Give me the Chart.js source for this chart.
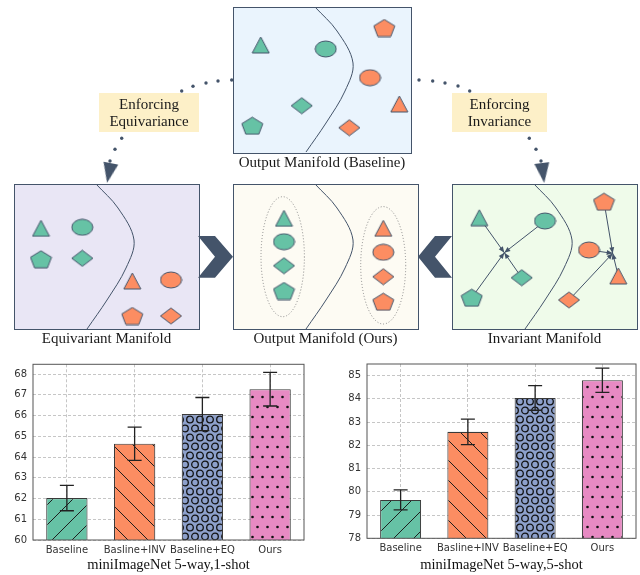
<!DOCTYPE html>
<html>
<head>
<meta charset="utf-8">
<script src="https://cdn.jsdelivr.net/npm/chart.js@4.4.1/dist/chart.umd.min.js"></script>
<style>
  html, body { margin: 0; padding: 0; background: #fff; }
  #page { position: relative; width: 640px; height: 575px; overflow: hidden; }
  .box { position: absolute; }
</style>
</head>
<body>
<div id="page">
  <div class="box" style="left:0;top:0;width:640px;height:352px"><canvas id="diagram"></canvas></div>
  <div class="box" style="left:0;top:352px;width:320px;height:223px"><canvas id="oneShot"></canvas></div>
  <div class="box" style="left:320px;top:352px;width:320px;height:223px"><canvas id="fiveShot"></canvas></div>
</div>
<script>
// --- barres : précision (%) et écart ---
const methods = ['Baseline', 'Basline+INV', 'Baseline+EQ', 'Ours'];
const oneShotAcc = [62.02, 64.64, 66.07, 67.27];
const oneShotErr = [0.61, 0.80, 0.80, 0.81];
const fiveShotAcc = [79.65, 82.58, 84.04, 84.80];
const fiveShotErr = [0.43, 0.55, 0.53, 0.52];
const oneShotTicks = [60, 61, 62, 63, 64, 65, 66, 67, 68];
const fiveShotTicks = [78, 79, 80, 81, 82, 83, 84, 85];

// --- schéma : positions des formes (haut, équivariant, ours, invariant) ---
const greenTriangle = [[260.7, 45], [41, 228.3], [284, 218.3], [479.3, 217.7]];
const greenEllipse = [[325.7, 49], [82.3, 227.3], [284, 241.7], [545, 221]];
const greenDiamond = [[301.7, 105.7], [82.3, 258.3], [284, 265.7], [521.7, 277.7]];
const greenPentagon = [[252.3, 125.7], [41, 259.3], [284, 291], [471.7, 297.7]];
const orangeTriangle = [[399.3, 104], [132.3, 281], [383.3, 228.3], [618.3, 276]];
const orangeEllipse = [[370, 77.7], [171, 280], [383.3, 252.3], [589, 250]];
const orangeDiamond = [[349.3, 127.7], [171, 316], [383.3, 276.7], [569, 300]];
const orangePentagon = [[384.3, 28], [132.3, 316], [383.3, 301.7], [604, 201.7]];
const greenHub = [504.3, 252.7];
const orangeHub = [612.7, 253.3];
// frontière de décision, relative au coin haut-gauche du cadre
const boundaryCurve = [[82, 0], [104, 24], [120, 56], [112, 84], [93, 116], [73, 145]];
// flèches pointillées
const equivDots = [[231.7, 80], [218, 81], [206, 83], [193, 86.3], [181.7, 91], [121.7, 138.3], [115, 149.3], [110, 161]];
const invDots = [[419, 80], [432.7, 81], [445, 83], [458, 86], [469.7, 91], [529.3, 138.3], [536, 149.3], [541, 161]];
const arrowHeads = [[109, 173], [543, 173]];
const arrowTilt = [11, -7];

// mise en page du schéma
const panels = [
  { x: 233, y: 7, w: 178, h: 146, fill: '#eaf4fd', caption: 'Output Manifold (Baseline)', cy: 163.5 },
  { x: 14, y: 184, w: 185, h: 145, fill: '#e9e6f5', caption: 'Equivariant Manifold', cy: 339.5 },
  { x: 233, y: 184, w: 185, h: 145, fill: '#fdfbf3', caption: 'Output Manifold (Ours)', cy: 339.5 },
  { x: 452, y: 184, w: 185, h: 145, fill: '#effbea', caption: 'Invariant Manifold', cy: 339.5 }
];
const rings = [[282.7, 256.7, 21.7, 60], [383.2, 265.3, 22.5, 58.7]];
const chevrons = [
  [[198, 236], [215, 236], [233, 256.7], [215, 277.7], [198, 277.7], [215, 256.7]],
  [[452, 236], [435, 236], [418, 256.7], [435, 277.7], [452, 277.7], [435, 256.7]]
];
const notes = [
  { x: 99, y: 93, w: 100, h: 39, lines: ['Enforcing', 'Equivariance'] },
  { x: 452, y: 93, w: 95, h: 39, lines: ['Enforcing', 'Invariance'] }
];

const ink = '#44546a';
const green = '#66c2a5';
const orange = '#fc8d62';
const serif = "'Liberation Serif', 'Times New Roman', serif";

const pt = (p) => ({ x: p[0], y: p[1] });

// petites icônes pour pointStyle
function icon(kind, fill) {
  const sz = { triangle: [17, 16], ellipse: [21, 16], diamond: [21, 16], pentagon: [21, 17], head: [15, 20] }[kind];
  const w = sz[0], h = sz[1];
  const c = document.createElement('canvas');
  c.width = w + 2;
  c.height = h + 2;
  const g = c.getContext('2d');
  const cx = c.width / 2, cy = c.height / 2;
  g.beginPath();
  if (kind === 'triangle') {
    g.moveTo(cx, 1); g.lineTo(1 + w, 1 + h); g.lineTo(1, 1 + h); g.closePath();
  } else if (kind === 'ellipse') {
    g.ellipse(cx, cy, w / 2, h / 2, 0, 0, Math.PI * 2);
  } else if (kind === 'diamond') {
    g.moveTo(cx, 1); g.lineTo(1 + w, cy); g.lineTo(cx, 1 + h); g.lineTo(1, cy); g.closePath();
  } else if (kind === 'pentagon') {
    for (let k = 0; k < 5; k++) {
      const a = -Math.PI / 2 + k * 2 * Math.PI / 5;
      const px = cx + (w / 2) * Math.cos(a) / 0.951;
      const py = 1 + h * (Math.sin(a) + 1) / 1.809;
      k ? g.lineTo(px, py) : g.moveTo(px, py);
    }
    g.closePath();
  } else {
    // pointe de flèche, vers le bas
    g.moveTo(1, 1); g.lineTo(1 + w, 1); g.lineTo(cx, 1 + h); g.closePath();
  }
  g.fillStyle = fill;
  g.fill();
  if (kind !== 'head') {
    g.strokeStyle = ink;
    g.lineWidth = 1;
    g.stroke();
  }
  return c;
}

function shapeSet(points, kind, fill) {
  return {
    data: points.map(pt),
    pointStyle: icon(kind, fill),
    pointRadius: 10,
    showLine: false,
    order: 1
  };
}

const diagramSets = [
  shapeSet(greenTriangle, 'triangle', green),
  shapeSet(greenEllipse, 'ellipse', green),
  shapeSet(greenDiamond, 'diamond', green),
  shapeSet(greenPentagon, 'pentagon', green),
  shapeSet(orangeTriangle, 'triangle', orange),
  shapeSet(orangeEllipse, 'ellipse', orange),
  shapeSet(orangeDiamond, 'diamond', orange),
  shapeSet(orangePentagon, 'pentagon', orange)
];

// frontières
panels.forEach((p) => {
  diagramSets.push({
    data: boundaryCurve.map((c) => ({ x: p.x + c[0], y: p.y + c[1] })),
    showLine: true, borderColor: ink, borderWidth: 1, tension: 0.35,
    pointRadius: 0, order: 6
  });
});

// flèches vers le centre de classe (invariant)
const hubArrows = [
  [greenTriangle[3], greenHub], [greenEllipse[3], greenHub],
  [greenDiamond[3], greenHub], [greenPentagon[3], greenHub],
  [orangePentagon[3], orangeHub], [orangeEllipse[3], orangeHub],
  [orangeTriangle[3], orangeHub], [orangeDiamond[3], orangeHub]
];
hubArrows.forEach((a) => {
  diagramSets.push({
    data: a.map(pt), showLine: true, borderColor: ink, borderWidth: 1,
    pointRadius: 0, order: 5, hubArrow: true
  });
});

// pointillés + pointes
[equivDots, invDots].forEach((d) => {
  diagramSets.push({
    data: d.map(pt), showLine: false, pointRadius: 1.7,
    pointBackgroundColor: ink, pointBorderWidth: 0, order: 2
  });
});
diagramSets.push({
  data: arrowHeads.map(pt), showLine: false, pointStyle: icon('head', ink),
  pointRadius: 10, rotation: arrowTilt, order: 2
});

const diagramBack = {
  id: 'diagramBack',
  beforeDatasetsDraw(chart) {
    const ctx = chart.ctx, sx = chart.scales.x, sy = chart.scales.y;
    const X = (v) => sx.getPixelForValue(v), Y = (v) => sy.getPixelForValue(v);
    ctx.save();
    panels.forEach((p) => {
      ctx.fillStyle = p.fill;
      ctx.fillRect(X(p.x), Y(p.y), p.w, p.h);
      ctx.strokeStyle = ink;
      ctx.lineWidth = 1;
      ctx.strokeRect(X(p.x) + 0.5, Y(p.y) + 0.5, p.w, p.h);
    });
    ctx.setLineDash([1, 2]);
    ctx.strokeStyle = '#8a8a8a';
    rings.forEach((r) => {
      ctx.beginPath();
      ctx.ellipse(X(r[0]), Y(r[1]), r[2], r[3], 0, 0, Math.PI * 2);
      ctx.stroke();
    });
    ctx.setLineDash([]);
    ctx.fillStyle = ink;
    chevrons.forEach((c) => {
      ctx.beginPath();
      c.forEach((v, i) => (i ? ctx.lineTo(X(v[0]), Y(v[1])) : ctx.moveTo(X(v[0]), Y(v[1]))));
      ctx.closePath();
      ctx.fill();
    });
    ctx.font = '15px ' + serif;
    ctx.textAlign = 'center';
    ctx.textBaseline = 'middle';
    notes.forEach((n) => {
      ctx.fillStyle = '#fdf0c8';
      ctx.fillRect(X(n.x), Y(n.y), n.w, n.h);
      ctx.fillStyle = '#1a1a1a';
      n.lines.forEach((t, i) => ctx.fillText(t, X(n.x + n.w / 2), Y(n.y + 12 + i * 16.7)));
    });
    panels.forEach((p) => {
      ctx.fillText(p.caption, X(p.x + p.w / 2), Y(p.cy));
    });
    ctx.restore();
  },
  afterDatasetsDraw(chart) {
    const ctx = chart.ctx;
    ctx.save();
    ctx.fillStyle = ink;
    chart.data.datasets.forEach((ds, i) => {
      if (!ds.hubArrow) return;
      const pts = chart.getDatasetMeta(i).data;
      const a = pts[0], b = pts[1];
      const ang = Math.atan2(b.y - a.y, b.x - a.x);
      ctx.beginPath();
      ctx.moveTo(b.x, b.y);
      ctx.lineTo(b.x - 6 * Math.cos(ang) + 2.5 * Math.sin(ang), b.y - 6 * Math.sin(ang) - 2.5 * Math.cos(ang));
      ctx.lineTo(b.x - 6 * Math.cos(ang) - 2.5 * Math.sin(ang), b.y - 6 * Math.sin(ang) + 2.5 * Math.cos(ang));
      ctx.closePath();
      ctx.fill();
    });
    ctx.restore();
  }
};

new Chart(document.getElementById('diagram'), {
  type: 'scatter',
  data: { datasets: diagramSets },
  options: {
    responsive: true, maintainAspectRatio: false, animation: false, events: [],
    layout: { padding: 0, autoPadding: false },
    plugins: { legend: { display: false }, tooltip: { enabled: false } },
    scales: {
      x: { type: 'linear', min: 0, max: 640, display: false },
      y: { type: 'linear', min: 0, max: 352, reverse: true, display: false }
    }
  },
  plugins: [diagramBack]
});

// --- motifs de hachures ---
function hatch(kind, base) {
  const c = document.createElement('canvas');
  const g = c.getContext('2d');
  if (kind === '/' || kind === '\\') {
    c.width = 20; c.height = 20;
    g.fillStyle = base; g.fillRect(0, 0, 20, 20);
    g.strokeStyle = '#1e1e1e'; g.lineWidth = 1;
    g.beginPath();
    if (kind === '/') {
      g.moveTo(0, 20); g.lineTo(20, 0); g.moveTo(-2, 2); g.lineTo(2, -2); g.moveTo(18, 22); g.lineTo(22, 18);
    } else {
      g.moveTo(0, 0); g.lineTo(20, 20); g.moveTo(-2, 18); g.lineTo(2, 22); g.moveTo(18, -2); g.lineTo(22, 2);
    }
    g.stroke();
  } else if (kind === 'o') {
    c.width = 10; c.height = 18;
    g.fillStyle = base; g.fillRect(0, 0, 10, 18);
    g.strokeStyle = '#111'; g.lineWidth = 1.3;
    [[5, 4.5], [0, 13.5], [10, 13.5]].forEach((p) => {
      g.beginPath(); g.arc(p[0], p[1], 3.3, 0, Math.PI * 2); g.stroke();
    });
  } else {
    c.width = 10; c.height = 20;
    g.fillStyle = base; g.fillRect(0, 0, 10, 20);
    g.fillStyle = '#111';
    [[2.5, 5], [7.5, 15]].forEach((p) => {
      g.beginPath(); g.arc(p[0], p[1], 1.3, 0, Math.PI * 2); g.fill();
    });
  }
  return g.createPattern(c, 'repeat');
}

const barFills = [hatch('/', '#66c2a5'), hatch('\\', '#fc8d62'), hatch('o', '#8da0cb'), hatch('.', '#e78ac3')];

const errorBars = {
  id: 'errorBars',
  afterDatasetsDraw(chart) {
    const ctx = chart.ctx, y = chart.scales.y, ds = chart.data.datasets[0];
    ctx.save();
    ctx.strokeStyle = '#222';
    ctx.lineWidth = 1.3;
    chart.getDatasetMeta(0).data.forEach((bar, i) => {
      const top = y.getPixelForValue(ds.data[i] + ds.errors[i]);
      const bot = y.getPixelForValue(ds.data[i] - ds.errors[i]);
      ctx.beginPath();
      ctx.moveTo(bar.x, top); ctx.lineTo(bar.x, bot);
      ctx.moveTo(bar.x - 7, top); ctx.lineTo(bar.x + 7, top);
      ctx.moveTo(bar.x - 7, bot); ctx.lineTo(bar.x + 7, bot);
      ctx.stroke();
    });
    const a = chart.chartArea;
    ctx.strokeStyle = '#555';
    ctx.lineWidth = 1;
    ctx.strokeRect(a.left, a.top, a.right - a.left, a.bottom - a.top);
    ctx.restore();
  }
};

function barChart(id, acc, err, ticks, yMax, title, geo) {
  return new Chart(document.getElementById(id), {
    type: 'bar',
    data: {
      labels: methods,
      datasets: [{
        data: acc, errors: err,
        backgroundColor: barFills,
        borderColor: '#3a3a3a', borderWidth: 1.1, borderSkipped: false,
        barPercentage: 0.61, categoryPercentage: 1
      }]
    },
    options: {
      responsive: true, maintainAspectRatio: false, animation: false, events: [],
      layout: { padding: { top: geo.top, right: geo.right, left: 0, bottom: 0 } },
      plugins: { legend: { display: false }, tooltip: { enabled: false } },
      scales: {
        x: {
          grid: { offset: false, color: '#b8b8b8', lineWidth: 0.8, drawTicks: false },
          border: { display: false, dash: [3, 2] },
          ticks: {
            color: '#333', padding: 4, maxRotation: 0, minRotation: 0, autoSkip: false,
            font: { family: "'DejaVu Sans', sans-serif", size: 10 }
          },
          title: { display: true, text: title, color: '#111', padding: { top: 0, bottom: 1 }, font: { family: serif, size: 14.5 } },
          afterFit: (s) => { s.height = geo.xh; }
        },
        y: {
          min: ticks[0], max: yMax,
          grid: { color: '#b8b8b8', lineWidth: 0.8, drawTicks: false },
          border: { display: false, dash: [3, 2] },
          ticks: { color: '#333', padding: 6, font: { family: "'DejaVu Sans', sans-serif", size: 10 } },
          afterBuildTicks: (s) => { s.ticks = ticks.map((v) => ({ value: v })); },
          afterFit: (s) => { s.width = geo.yw; }
        }
      }
    },
    plugins: [errorBars]
  });
}

barChart('oneShot', oneShotAcc, oneShotErr, oneShotTicks, 68.47, 'miniImageNet 5-way,1-shot',
  { top: 12.3, right: 16, xh: 35, yw: 33 });
barChart('fiveShot', fiveShotAcc, fiveShotErr, fiveShotTicks, 85.5, 'miniImageNet 5-way,5-shot',
  { top: 10.3, right: 4, xh: 36.7, yw: 47 });
</script>
</body>
</html>
